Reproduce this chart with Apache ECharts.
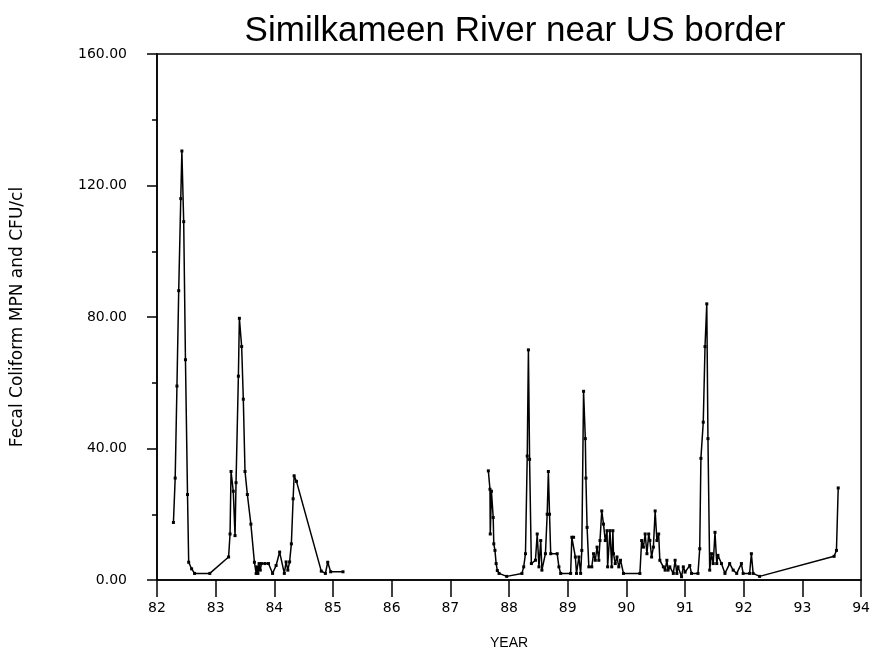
<!DOCTYPE html>
<html>
<head>
<meta charset="utf-8">
<script src="https://cdn.jsdelivr.net/npm/echarts@6/dist/echarts.min.js"></script>
<style>html,body{margin:0;padding:0;background:#fff;}#chart{width:873px;height:655px;}</style>
</head>
<body>
<div id="chart"></div>
<script>
const titleText = 'Similkameen River near US border';
const xAxisName = 'YEAR';
const yAxisName = 'Fecal Coliform MPN and CFU/cl';

const years1 = [82.28,82.31,82.34,82.37,82.405,82.424,82.455,82.485,82.52,82.54,82.59,82.64,82.90,83.22,83.245,83.262,83.30,83.33,83.347,83.387,83.404,83.443,83.471,83.50,83.54,83.60,83.66,83.69,83.70,83.72,83.74,83.76,83.78,83.84,83.90,83.97,84.03,84.09,84.17,84.20,84.23,84.26,84.29,84.32,84.337,84.377,84.80,84.87,84.91,84.96,85.17];
const values1 = [17.5,31,59,88,116,130.5,109,67,26,5.4,3.4,2,2,7,14,33,27,13.5,29.6,62,79.6,71,55,33,26,17,5.4,2,4,2,5,3,5,5,5,2,4.4,8.5,2,5.5,3,5.5,11,24.7,31.7,30,2.7,2,5.4,2.5,2.5];

const years2 = [87.647,87.675,87.68,87.70,87.73,87.74,87.76,87.78,87.80,87.83,
87.96,88.22,88.25,88.28,88.31,88.33,88.35,88.38,88.45,88.48,
88.51,88.54,88.56,88.62,88.65,88.67,88.69,88.71,88.82,88.85,
88.88,89.05,89.07,89.10,89.13,89.15,89.19,89.22,89.24,89.27,
89.30,89.31,89.33,89.36,89.41,89.44,89.47,89.50,89.53,89.55,
89.58,89.61,89.64,89.67,89.68,89.72,89.75,89.77,89.78,89.81,
89.84,89.87,89.90,89.95,90.23,90.26,90.29,90.32,90.35,90.38,
90.40,90.43,90.46,90.49,90.52,90.55,90.57,90.63,90.66,90.69,
90.71,90.74,90.80,90.83,90.86,90.88,90.94,90.97,91.0,91.08,
91.11,91.22,91.25,91.27,91.31,91.34,91.37,91.39,91.42,91.45,
91.48,91.51,91.54,91.56,91.62,91.68,91.76,91.82,91.88,91.96,
91.99,92.10,92.13,92.16,92.27,93.54,93.58,93.61];
const values2 = [33.2,27.6,14,27,19,11,9,5,2.9,2,
1.1,2,4,8,37.7,70,36.7,5,6,14,
4,12,3,8,20,33,20,8,8,4,
2,2,13,13,7,2,7,2,9,57.4,
43,31,16,4,4,8,6,10,6,12,
21,17,12,15,4,15,4,15,8,5,
7,4,6,2,2,12,10,14,8,14,
12,7,10,21,12,14,6,4,3,6,
3,4,2,6,2,4,1,4,2.4,4.4,
2,2,9.5,37,48,71,84,43,3,8,
5,14.5,5,7.5,5,2,5,3,2,5,
2,2,8,2,1.1,7.2,9,28];

const xMin = 82, xMax = 94, xStep = 1;
const yMin = 0, yMax = 160, yStep = 40;

function pairs(xs, ys) { return xs.map((x, i) => [x, ys[i]]); }

const chart = echarts.init(document.getElementById('chart'), null, {renderer: 'canvas'});
const font = 'Liberation Sans, Arial, sans-serif';
const tickFont = 'DejaVu Sans, sans-serif';
const lineSeries = (data) => ({
  type: 'line',
  data: data,
  symbol: 'rect',
  symbolSize: 3,
  showSymbol: true,
  animation: false,
  lineStyle: {color: '#000', width: 1.5},
  itemStyle: {color: '#000'},
  emphasis: {disabled: true}
});
chart.setOption({
  animation: false,
  backgroundColor: '#fff',
  title: {
    text: titleText,
    left: 510, top: 9, textAlign: 'center',
    textStyle: {fontFamily: font, fontSize: 35, fontWeight: 'normal', color: '#000'}
  },
  grid: {left: 157, right: 9, top: 54, bottom: 72, show: true, borderColor: '#000', borderWidth: 1.5},
  xAxis: {
    type: 'value', min: xMin, max: xMax, interval: xStep,
    name: xAxisName, nameLocation: 'middle', nameGap: 56,
    nameTextStyle: {fontFamily: font, fontSize: 14, color: '#000'},
    axisLine: {show: true, lineStyle: {color: '#000', width: 1.5}},
    axisTick: {show: true, inside: false, length: 17, lineStyle: {color: '#000', width: 1.5}},
    axisLabel: {fontFamily: tickFont, fontSize: 14, color: '#000', margin: 21},
    splitLine: {show: false}
  },
  yAxis: {
    type: 'value', min: yMin, max: yMax, interval: yStep,
    name: yAxisName, nameLocation: 'middle', nameGap: 131,
    nameTextStyle: {fontFamily: tickFont, fontSize: 17, color: '#000'},
    axisLine: {show: true, lineStyle: {color: '#000', width: 1.5}},
    axisTick: {show: true, inside: false, length: 10, lineStyle: {color: '#000', width: 1.5}},
    minorTick: {show: true, splitNumber: 2, length: 5, lineStyle: {color: '#000', width: 1.5}},
    axisLabel: {fontFamily: tickFont, fontSize: 14, color: '#000', margin: 30, formatter: v => v.toFixed(2)},
    splitLine: {show: false}
  },
  series: [lineSeries(pairs(years1, values1)), lineSeries(pairs(years2, values2))]
});
</script>
</body>
</html>
